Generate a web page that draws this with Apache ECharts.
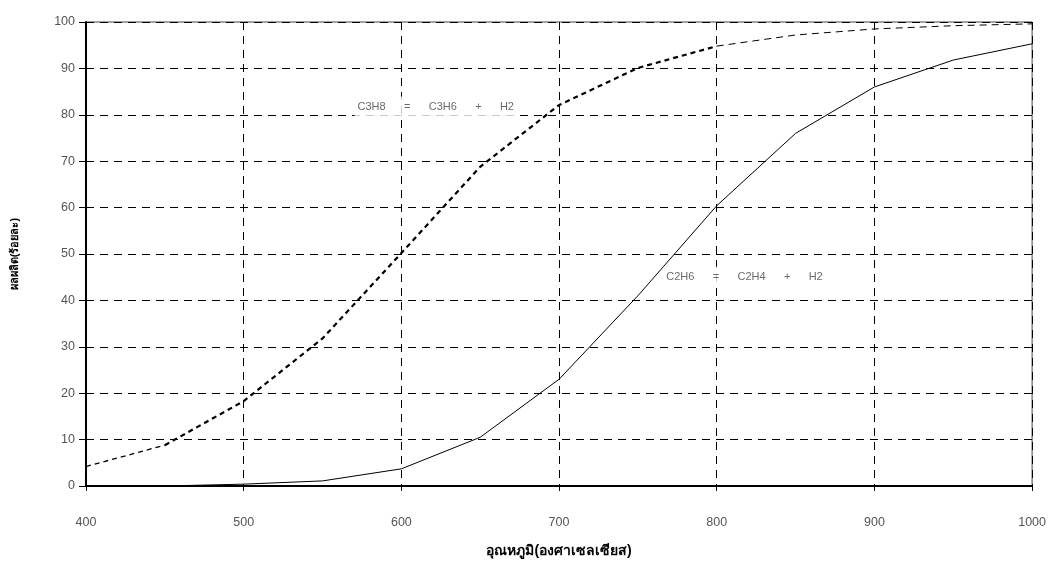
<!DOCTYPE html>
<html><head><meta charset="utf-8">
<script src="https://cdn.jsdelivr.net/npm/echarts@6/dist/echarts.min.js"></script>
<style>html,body{margin:0;padding:0;background:#fff}#c{width:1049px;height:573px}</style>
</head><body><div id="c"></div>
<script>
const temps = [400,450,500,550,600,650,700,750,800,850,900,950,1000];
const c3h8 = [4.2,8.8,18.3,31.8,50.2,68.8,82.1,90.1,94.8,97.2,98.5,99.2,99.6];
const c2h6 = [0,0,0.4,1.1,3.7,10.5,23.0,41.0,60.4,76.0,86.0,91.8,95.3];
const xTicks = {min:400,max:1000,interval:100};
const yTicks = {min:0,max:100,interval:10};
const labels = [
  {text:'C3H8      =      C3H6      +      H2', x:621.8, y:81.7},
  {text:'C2H6      =      C2H4      +      H2', x:817.6, y:45.0}
];
const xName = 'อุณหภูมิ(องศาเซลเซียส)';
const yName = 'ผลผลิต(ร้อยละ)';

const font = "'Liberation Sans', Arial, sans-serif";
const pts = (arr, a, b) => temps.slice(a, b).map((t, i) => [t, arr[a + i]]);
const chart = echarts.init(document.getElementById('c'));
chart.setOption({
  animation:false,
  backgroundColor:'#fff',
  grid:{left:86,right:16,top:22,bottom:87,show:true,borderColor:'#444',borderWidth:1},
  xAxis:{type:'value',min:xTicks.min,max:xTicks.max,interval:xTicks.interval,
    name:xName,nameLocation:'middle',nameGap:58,
    nameTextStyle:{fontFamily:font,fontSize:14,fontWeight:'bold',color:'#000'},
    axisLine:{show:true,lineStyle:{color:'#000',width:2}},
    axisTick:{show:true,length:5,lineStyle:{color:'#000'}},
    axisLabel:{fontFamily:font,fontSize:12.5,color:'#555',margin:30,formatter:v=>String(v)},
    splitLine:{show:true,lineStyle:{color:'#000',type:[8,6],width:1}}},
  yAxis:{type:'value',min:yTicks.min,max:yTicks.max,interval:yTicks.interval,
    name:yName,nameLocation:'middle',nameGap:66,nameRotate:90,
    nameTextStyle:{fontFamily:font,fontSize:11,fontWeight:'bold',color:'#000'},
    axisLine:{show:true,lineStyle:{color:'#000',width:2}},
    axisTick:{show:true,length:7,lineStyle:{color:'#000'}},
    axisLabel:{fontFamily:font,fontSize:12.5,color:'#555',margin:11},
    splitLine:{show:true,lineStyle:{color:'#000',type:[8,6],width:1}}},
  series:[
    {name:'C3H8',type:'line',data:pts(c3h8,0,2),symbol:'none',
      lineStyle:{color:'#000',width:1.3,type:[5,4]},z:3},
    {name:'C3H8',type:'line',data:pts(c3h8,1,9),symbol:'none',
      lineStyle:{color:'#000',width:2.2,type:[5,4]},z:3},
    {name:'C3H8',type:'line',data:pts(c3h8,8,13),symbol:'none',
      lineStyle:{color:'#000',width:1,type:[7,5]},z:3},
    {name:'C2H6',type:'line',data:pts(c2h6,0,13),symbol:'none',
      lineStyle:{color:'#000',width:1,type:'solid'},z:3},
    {name:'labels',type:'scatter',symbolSize:0,z:4,
      data:labels.map(l=>({value:[l.x,l.y],label:{formatter:l.text}})),
      label:{show:true,position:'inside',fontFamily:font,fontSize:11,color:'#444',
        backgroundColor:'#fff',padding:[5,3]}}
  ]
});
</script></body></html>
